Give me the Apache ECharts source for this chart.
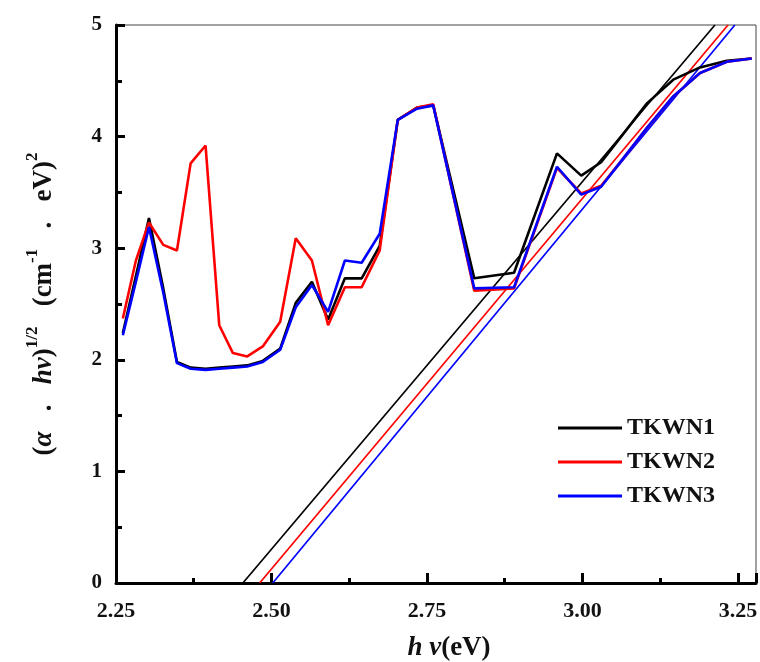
<!DOCTYPE html>
<html>
<head>
<meta charset="utf-8">
<script src="https://cdn.jsdelivr.net/npm/echarts@6/dist/echarts.min.js"></script>
<style>
html,body{margin:0;padding:0;background:#fff;}
#chart{width:760px;height:662px;}
</style>
</head>
<body>
<div id="chart"></div>
<script>
// photon energy (eV)
const energy = [2.261, 2.282, 2.303, 2.326, 2.348, 2.370, 2.394, 2.416, 2.438, 2.461, 2.486, 2.514, 2.539, 2.565, 2.591, 2.618, 2.645, 2.674, 2.703, 2.734, 2.760, 2.826, 2.890, 2.959, 2.998, 3.030, 3.065, 3.104, 3.146, 3.189, 3.232, 3.272];
const tkwn1 = [2.24, 2.75, 3.27, 2.64, 1.98, 1.93, 1.92, 1.93, 1.94, 1.95, 1.99, 2.10, 2.51, 2.70, 2.36, 2.73, 2.73, 3.02, 4.15, 4.26, 4.28, 2.73, 2.78, 3.85, 3.65, 3.77, 4.02, 4.30, 4.51, 4.62, 4.68, 4.70];
const tkwn2 = [2.37, 2.89, 3.23, 3.03, 2.98, 3.76, 3.92, 2.31, 2.06, 2.03, 2.12, 2.34, 3.09, 2.89, 2.31, 2.65, 2.65, 2.98, 4.15, 4.26, 4.29, 2.62, 2.64, 3.72, 3.49, 3.56, 3.80, 4.08, 4.36, 4.57, 4.67, 4.70];
const tkwn3 = [2.22, 2.70, 3.19, 2.60, 1.97, 1.92, 1.91, 1.92, 1.93, 1.94, 1.98, 2.09, 2.47, 2.67, 2.43, 2.89, 2.87, 3.13, 4.15, 4.25, 4.28, 2.64, 2.65, 3.73, 3.48, 3.55, 3.80, 4.08, 4.36, 4.57, 4.67, 4.70];
// linear (Tauc) fits: [x at y=0, y=0], [x at y=5, y=5]
const fit1 = [[2.454, 0], [3.213, 5]];
const fit2 = [[2.481, 0], [3.234, 5]];
const fit3 = [[2.502, 0], [3.245, 5]];
const seriesNames = ['TKWN1', 'TKWN2', 'TKWN3'];
const colors = ['#000000', '#ff0000', '#0000ff'];
const xTicks = [2.25, 2.50, 2.75, 3.00, 3.25];
const yTicks = [0, 1, 2, 3, 4, 5];

const FONT = 'Liberation Serif';
const pair = (xs, ys) => xs.map((x, i) => [x, ys[i]]);
const dataSets = [tkwn1, tkwn2, tkwn3];
const fits = [fit1, fit2, fit3];

const series = [];
fits.forEach((f, i) => {
  series.push({
    type: 'line', data: f, showSymbol: false, silent: true,
    lineStyle: { color: colors[i], width: 1.7 }, itemStyle: { color: colors[i] },
    z: 2
  });
});
dataSets.forEach((d, i) => {
  series.push({
    name: seriesNames[i], type: 'line', data: pair(energy, d), showSymbol: false,
    lineStyle: { color: colors[i], width: 2.6 }, itemStyle: { color: colors[i] },
    z: 3 + i
  });
});

const SP = ' \u2002';
const chart = echarts.init(document.getElementById('chart'), null, { renderer: 'canvas' });
chart.setOption({
  animation: false,
  backgroundColor: '#fff',
  grid: { left: 116, right: 4, top: 25, bottom: 79, show: true, borderColor: '#444', borderWidth: 1, outerBoundsMode: 'none' },
  legend: {
    data: seriesNames, orient: 'vertical', left: 553, top: 411, itemGap: 10,
    itemWidth: 64, itemHeight: 3, icon: 'rect',
    textStyle: { fontFamily: FONT, fontWeight: 'bold', fontSize: 24, color: '#111' }
  },
  xAxis: {
    type: 'value', min: 2.25, max: 3.279, interval: 0.25,
    axisLine: { show: true, lineStyle: { color: '#000', width: 3 } },
    axisTick: { inside: true, length: 10, lineStyle: { color: '#000', width: 3 } },
    minorTick: { show: true, splitNumber: 2, length: 5, lineStyle: { color: '#000', width: 3 } },
    splitLine: { show: false },
    axisLabel: {
      margin: 17, fontFamily: FONT, fontWeight: 'bold', fontSize: 22, color: '#111',
      formatter: v => xTicks.some(t => Math.abs(t - v) < 1e-6) ? v.toFixed(2) : ''
    },
    name: '{i|h }{i|\u03bd}{p|(eV)}', nameLocation: 'middle', nameGap: 52,
    nameTextStyle: {
      padding: [0, 0, 0, 26],
      rich: {
        i: { fontFamily: FONT, fontStyle: 'italic', fontWeight: 'bold', fontSize: 27, color: '#111' },
        p: { fontFamily: FONT, fontWeight: 'bold', fontSize: 27, color: '#111' }
      }
    }
  },
  yAxis: {
    type: 'value', min: 0, max: 5, interval: 1,
    axisLine: { show: true, lineStyle: { color: '#000', width: 3 } },
    axisTick: { inside: true, length: 9, lineStyle: { color: '#000', width: 3 } },
    minorTick: { show: true, splitNumber: 2, length: 6, lineStyle: { color: '#000', width: 3 } },
    splitLine: { show: false },
    axisLabel: {
      margin: 14, fontFamily: FONT, fontWeight: 'bold', fontSize: 21, color: '#111',
      formatter: v => yTicks.includes(v) ? String(v) : ''
    },
    name: '{p|(}{i|\u03b1}{p|' + SP + '.' + SP + '}{i|h\u03bd}{p|)}{s|1/2}{p|' + SP + '(cm}{s|-1}{p|' + SP + '.' + SP + 'eV)}{s|2}',
    nameLocation: 'middle', nameRotate: 90, nameGap: 58,
    nameTextStyle: {
      rich: {
        p: { fontFamily: FONT, fontWeight: 'bold', fontSize: 27, color: '#111', lineHeight: 34, verticalAlign: 'bottom' },
        i: { fontFamily: FONT, fontStyle: 'italic', fontWeight: 'bold', fontSize: 27, color: '#111', lineHeight: 34, verticalAlign: 'bottom' },
        s: { fontFamily: FONT, fontWeight: 'bold', fontSize: 17, color: '#111', lineHeight: 17, verticalAlign: 'top' }
      }
    }
  },
  series: series
});
</script>
</body>
</html>
